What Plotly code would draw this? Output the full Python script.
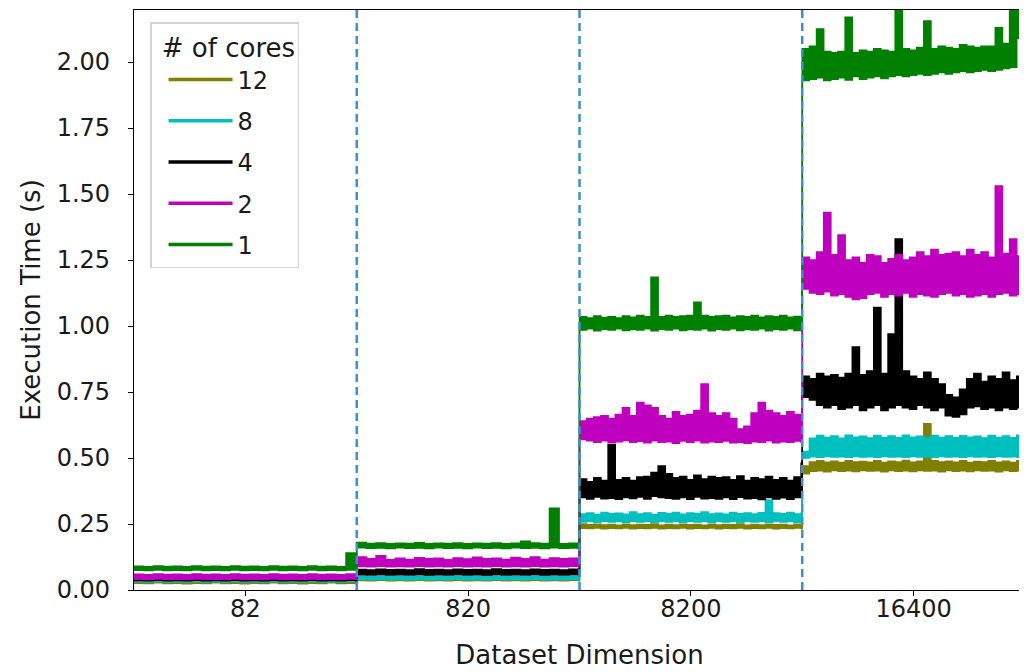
import plotly.graph_objects as go

# Dataset dimension categories (tick labels) and core counts (legend)
dims = ["82", "820", "8200", "16400"]
cores = ["12", "8", "4", "2", "1"]
colors = {"12": "#808000", "8": "#00bfbf", "4": "#000000", "2": "#bf00bf", "1": "#008000"}

# Execution time (s): lower and upper edge of each noisy run, per dataset dimension
# ---- 12 cores
o1_lo = [0.026,0.025,0.027,0.025,0.026,0.024,0.026,0.025,0.027,0.025,0.026,0.024,0.026,0.025,0.027,0.025,0.026,0.024,0.026,0.025,0.027,0.025,0.026,0.025]
o1_hi = [0.034,0.033,0.035,0.033,0.034,0.032,0.035,0.033,0.034,0.033,0.035,0.032,0.034,0.033,0.035,0.033,0.034,0.032,0.035,0.033,0.034,0.033,0.035,0.033]
o2_lo = [0.036,0.035,0.037,0.035,0.036,0.035,0.037,0.035,0.036,0.035,0.037,0.035,0.036,0.035,0.037,0.035,0.036,0.035,0.037,0.035,0.036,0.035,0.037,0.035]
o2_hi = [0.045,0.046,0.044,0.047,0.045,0.046,0.044,0.056,0.045,0.046,0.044,0.047,0.045,0.055,0.044,0.047,0.045,0.046,0.044,0.052,0.045,0.046,0.044,0.046]
o3_lo = [0.234,0.233,0.235,0.232,0.234,0.233,0.235,0.232,0.234,0.233,0.235,0.232,0.234,0.233,0.235,0.232,0.234,0.233,0.235,0.232,0.234,0.233,0.235,0.232,0.234,0.233,0.235,0.232,0.234,0.233,0.235,0.232]
o3_hi = [0.250,0.247,0.249,0.246,0.248,0.245,0.249,0.246,0.248,0.247,0.250,0.245,0.248,0.246,0.249,0.247,0.248,0.245,0.249,0.246,0.248,0.247,0.250,0.245,0.248,0.246,0.249,0.247,0.248,0.245,0.249,0.246]
o4_lo = [0.440,0.450,0.452,0.448,0.453,0.450,0.452,0.449,0.453,0.451,0.452,0.448,0.453,0.450,0.452,0.449,0.453,0.451,0.452,0.448,0.453,0.450,0.452,0.449,0.453,0.451,0.452,0.448,0.453,0.450,0.452,0.449]
o4_hi = [0.470,0.485,0.490,0.484,0.488,0.483,0.490,0.485,0.487,0.484,0.490,0.483,0.488,0.485,0.491,0.484,0.488,0.630,0.490,0.485,0.488,0.484,0.490,0.483,0.487,0.485,0.490,0.484,0.488,0.483,0.490,0.485]
# ---- 8 cores
c1_lo = [0.031,0.030,0.032,0.030,0.031,0.030,0.032,0.030,0.031,0.030,0.032,0.030,0.031,0.030,0.032,0.030,0.031,0.030,0.032,0.030,0.031,0.030,0.032,0.030]
c1_hi = [0.040,0.039,0.041,0.039,0.040,0.039,0.041,0.039,0.040,0.039,0.041,0.039,0.040,0.039,0.041,0.039,0.040,0.039,0.041,0.039,0.040,0.039,0.041,0.039]
c2_lo = [0.040,0.039,0.041,0.039,0.040,0.039,0.041,0.039,0.040,0.039,0.041,0.039,0.040,0.039,0.041,0.039,0.040,0.039,0.041,0.039,0.040,0.039,0.041,0.039]
c2_hi = [0.052,0.050,0.053,0.051,0.052,0.050,0.053,0.051,0.052,0.050,0.053,0.051,0.052,0.050,0.053,0.051,0.052,0.050,0.053,0.051,0.052,0.050,0.053,0.051]
c3_lo = [0.258,0.259,0.257,0.260,0.258,0.259,0.257,0.260,0.258,0.259,0.257,0.260,0.258,0.259,0.257,0.260,0.258,0.259,0.257,0.260,0.258,0.259,0.257,0.260,0.258,0.259,0.257,0.260,0.258,0.259,0.257,0.260]
c3_hi = [0.288,0.292,0.286,0.294,0.289,0.291,0.287,0.295,0.288,0.292,0.286,0.293,0.290,0.294,0.287,0.292,0.289,0.295,0.288,0.291,0.287,0.294,0.289,0.292,0.288,0.293,0.340,0.292,0.289,0.294,0.288,0.292]
c4_lo = [0.500,0.505,0.503,0.506,0.504,0.505,0.503,0.506,0.504,0.505,0.503,0.506,0.504,0.505,0.503,0.506,0.504,0.505,0.503,0.506,0.504,0.505,0.503,0.506,0.504,0.505,0.503,0.506,0.504,0.505,0.503,0.506]
c4_hi = [0.525,0.575,0.585,0.578,0.583,0.575,0.586,0.579,0.582,0.576,0.585,0.578,0.583,0.577,0.586,0.579,0.582,0.576,0.585,0.578,0.583,0.577,0.584,0.579,0.582,0.576,0.585,0.578,0.583,0.577,0.586,0.595]
# ---- 4 cores
k1_lo = [0.036,0.035,0.037,0.035,0.036,0.035,0.037,0.035,0.036,0.035,0.037,0.035,0.036,0.035,0.037,0.035,0.036,0.035,0.037,0.035,0.036,0.035,0.037,0.035]
k1_hi = [0.046,0.045,0.047,0.045,0.046,0.045,0.047,0.045,0.046,0.045,0.047,0.045,0.046,0.045,0.047,0.045,0.046,0.045,0.047,0.045,0.046,0.045,0.047,0.045]
k2_lo = [0.058,0.057,0.059,0.057,0.058,0.057,0.059,0.057,0.058,0.057,0.059,0.057,0.058,0.057,0.059,0.057,0.058,0.057,0.059,0.057,0.058,0.057,0.059,0.057]
k2_hi = [0.078,0.076,0.079,0.077,0.078,0.076,0.080,0.077,0.078,0.076,0.079,0.077,0.078,0.076,0.080,0.077,0.078,0.076,0.079,0.077,0.078,0.076,0.079,0.077]
k3_lo = [0.350,0.345,0.352,0.346,0.348,0.344,0.350,0.347,0.352,0.345,0.355,0.350,0.348,0.345,0.350,0.344,0.352,0.346,0.348,0.345,0.350,0.344,0.351,0.346,0.348,0.343,0.350,0.345,0.349,0.344,0.350,0.360]
k3_hi = [0.420,0.410,0.425,0.415,0.550,0.418,0.425,0.415,0.428,0.430,0.445,0.470,0.440,0.425,0.430,0.418,0.435,0.420,0.430,0.425,0.428,0.418,0.432,0.415,0.425,0.420,0.430,0.418,0.425,0.415,0.428,0.480]
k4_lo = [0.730,0.720,0.700,0.690,0.700,0.685,0.690,0.700,0.680,0.690,0.700,0.680,0.690,0.700,0.690,0.685,0.700,0.690,0.680,0.690,0.660,0.655,0.665,0.690,0.695,0.685,0.690,0.680,0.690,0.685,0.690,0.700]
k4_hi = [0.810,0.800,0.820,0.810,0.815,0.805,0.820,0.920,0.815,0.830,1.070,0.820,0.970,1.330,0.830,0.810,0.800,0.825,0.800,0.780,0.740,0.730,0.760,0.800,0.820,0.790,0.810,0.800,0.825,0.795,0.810,0.800]
# ---- 2 cores
m1_lo = [0.041,0.040,0.042,0.040,0.041,0.040,0.042,0.040,0.041,0.040,0.042,0.040,0.041,0.040,0.042,0.040,0.041,0.040,0.042,0.040,0.041,0.040,0.042,0.040]
m1_hi = [0.060,0.058,0.061,0.059,0.060,0.058,0.061,0.059,0.060,0.058,0.061,0.059,0.060,0.058,0.061,0.059,0.060,0.058,0.061,0.059,0.060,0.058,0.061,0.059]
m2_lo = [0.089,0.088,0.090,0.088,0.089,0.088,0.090,0.088,0.089,0.088,0.090,0.088,0.089,0.088,0.090,0.088,0.089,0.088,0.090,0.088,0.089,0.088,0.090,0.088]
m2_hi = [0.125,0.118,0.130,0.115,0.120,0.116,0.122,0.118,0.120,0.115,0.121,0.117,0.124,0.118,0.120,0.116,0.123,0.118,0.125,0.116,0.121,0.118,0.120,0.117]
m3_lo = [0.570,0.565,0.560,0.565,0.558,0.562,0.566,0.560,0.563,0.558,0.565,0.560,0.562,0.556,0.564,0.560,0.565,0.558,0.562,0.560,0.564,0.558,0.560,0.556,0.562,0.560,0.565,0.558,0.562,0.560,0.564,0.560]
m3_hi = [0.640,0.650,0.655,0.660,0.650,0.665,0.690,0.660,0.710,0.700,0.690,0.660,0.650,0.675,0.660,0.665,0.680,0.780,0.670,0.660,0.670,0.650,0.610,0.620,0.670,0.710,0.680,0.670,0.660,0.675,0.665,0.660]
m4_lo = [1.140,1.125,1.120,1.130,1.115,1.120,1.110,1.100,1.105,1.120,1.125,1.110,1.120,1.115,1.125,1.110,1.120,1.115,1.110,1.120,1.125,1.115,1.120,1.110,1.115,1.120,1.110,1.120,1.125,1.115,1.120,1.125]
m4_hi = [1.260,1.250,1.280,1.430,1.270,1.345,1.250,1.260,1.240,1.270,1.265,1.240,1.255,1.270,1.250,1.260,1.280,1.265,1.290,1.270,1.275,1.280,1.265,1.290,1.270,1.280,1.260,1.530,1.275,1.330,1.265,1.280]
# ---- 1 core
g1_lo = [0.075,0.074,0.076,0.074,0.075,0.074,0.076,0.074,0.075,0.074,0.076,0.074,0.075,0.074,0.076,0.074,0.075,0.074,0.076,0.074,0.075,0.074,0.076,0.074]
g1_hi = [0.090,0.088,0.091,0.089,0.090,0.088,0.091,0.089,0.090,0.088,0.091,0.089,0.090,0.088,0.091,0.089,0.090,0.088,0.091,0.089,0.090,0.088,0.140,0.090]
g2_lo = [0.160,0.158,0.159,0.157,0.160,0.158,0.159,0.157,0.160,0.158,0.159,0.157,0.160,0.158,0.159,0.157,0.160,0.158,0.159,0.157,0.160,0.158,0.159,0.157]
g2_hi = [0.180,0.176,0.178,0.175,0.177,0.176,0.179,0.175,0.177,0.176,0.178,0.175,0.177,0.176,0.178,0.175,0.177,0.185,0.178,0.176,0.310,0.175,0.177,0.176]
g3_lo = [0.985,0.990,0.982,0.988,0.985,0.990,0.983,0.987,0.985,0.990,0.982,0.988,0.985,0.990,0.983,0.987,0.985,0.990,0.982,0.988,0.985,0.990,0.983,0.987,0.985,0.990,0.982,0.988,0.985,0.990,0.983,0.987]
g3_hi = [1.035,1.030,1.038,1.032,1.035,1.030,1.038,1.033,1.040,1.035,1.185,1.035,1.040,1.035,1.038,1.040,1.090,1.040,1.035,1.038,1.040,1.033,1.038,1.035,1.040,1.033,1.038,1.035,1.040,1.033,1.036,1.035]
g4_lo = [1.930,1.935,1.940,1.930,1.935,1.940,1.932,1.945,1.935,1.940,1.945,1.938,1.945,1.950,1.945,1.950,1.955,1.950,1.955,1.960,1.955,1.960,1.965,1.960,1.965,1.970,1.965,1.970,1.975,1.980,2.090,2.050]
g4_hi = [2.050,2.060,2.125,2.040,2.035,2.040,2.170,2.035,2.045,2.040,2.050,2.045,2.040,2.250,2.050,2.045,2.055,2.155,2.050,2.060,2.055,2.050,2.065,2.060,2.055,2.060,2.060,2.130,2.070,2.250,2.250,2.180]

lows = {"12": [o1_lo, o2_lo, o3_lo, o4_lo], "8": [c1_lo, c2_lo, c3_lo, c4_lo],
        "4": [k1_lo, k2_lo, k3_lo, k4_lo], "2": [m1_lo, m2_lo, m3_lo, m4_lo],
        "1": [g1_lo, g2_lo, g3_lo, g4_lo]}
highs = {"12": [o1_hi, o2_hi, o3_hi, o4_hi], "8": [c1_hi, c2_hi, c3_hi, c4_hi],
         "4": [k1_hi, k2_hi, k3_hi, k4_hi], "2": [m1_hi, m2_hi, m3_hi, m4_hi],
         "1": [g1_hi, g2_hi, g3_hi, g4_hi]}


def positions(segs):
    xs = []
    for k, seg in enumerate(segs):
        n = len(seg)
        xs += [k + 0.995 * i / (n - 1) for i in range(n)]
    return xs


def flat(segs):
    out = []
    for seg in segs:
        out += seg
    return out


FONT = "DejaVu Sans"
fig = go.Figure()
for c in cores:
    col = colors[c]
    fig.add_trace(go.Scatter(x=positions(lows[c]), y=flat(lows[c]), mode="lines",
                             line=dict(color=col, width=1.5, shape="hv"), showlegend=False,
                             hoverinfo="skip"))
    fig.add_trace(go.Scatter(x=positions(highs[c]), y=flat(highs[c]), mode="lines",
                             line=dict(color=col, width=1.5, shape="hv"), fill="tonexty",
                             fillcolor=col, showlegend=False, name=c))

# legend entries
for c in cores:
    fig.add_trace(go.Scatter(x=[None], y=[None], mode="lines", name=c, legendgroup=c,
                             line=dict(color=colors[c], width=3.5)))

for k in range(1, len(dims) + 1):
    fig.add_shape(type="line", xref="x", yref="paper", x0=k, x1=k, y0=0, y1=1,
                  line=dict(color="#3d8fcf", width=2.5, dash="8px,5px"), layer="above")

fig.update_layout(
    width=1027, height=672,
    margin=dict(l=126, r=10, t=2, b=90),
    paper_bgcolor="white", plot_bgcolor="white",
    font=dict(family=FONT, size=24, color="#1a1a1a"),
    showlegend=True,
    legend=dict(
        title=dict(text=" # of cores", font=dict(family=FONT, size=26)),
        x=0.018, y=0.979, xanchor="left", yanchor="top",
        bgcolor="rgba(255,255,255,0.8)", bordercolor="#d4d4d4", borderwidth=1.5,
        font=dict(family=FONT, size=24), tracegroupgap=7, itemwidth=64,
        indentation=12,
    ),
    xaxis=dict(
        range=[0, 4], tickmode="array", tickvals=[k + 0.5 for k in range(len(dims))],
        ticktext=dims, ticks="outside", ticklen=5, tickcolor="black", tickwidth=1.2,
        showline=True, linecolor="black", linewidth=1.2, mirror=True,
        showgrid=False, zeroline=False, ticklabelstandoff=-8,
        tickfont=dict(family=FONT, size=24),
        title=dict(text="Dataset Dimension", font=dict(family=FONT, size=26), standoff=23),
    ),
    yaxis=dict(
        range=[0, 2.197], tickmode="array",
        tickvals=[0, 0.25, 0.5, 0.75, 1.0, 1.25, 1.5, 1.75, 2.0],
        tickformat=".2f", ticks="outside", ticklen=5, tickcolor="black", tickwidth=1.2,
        showline=True, linecolor="black", linewidth=1.2, mirror=True,
        showgrid=False, zeroline=False, ticklabelstandoff=13,
        tickfont=dict(family=FONT, size=24),
        title=dict(text="Execution Time (s)", font=dict(family=FONT, size=26), standoff=8),
    ),
)

fig.write_html("out.html")
